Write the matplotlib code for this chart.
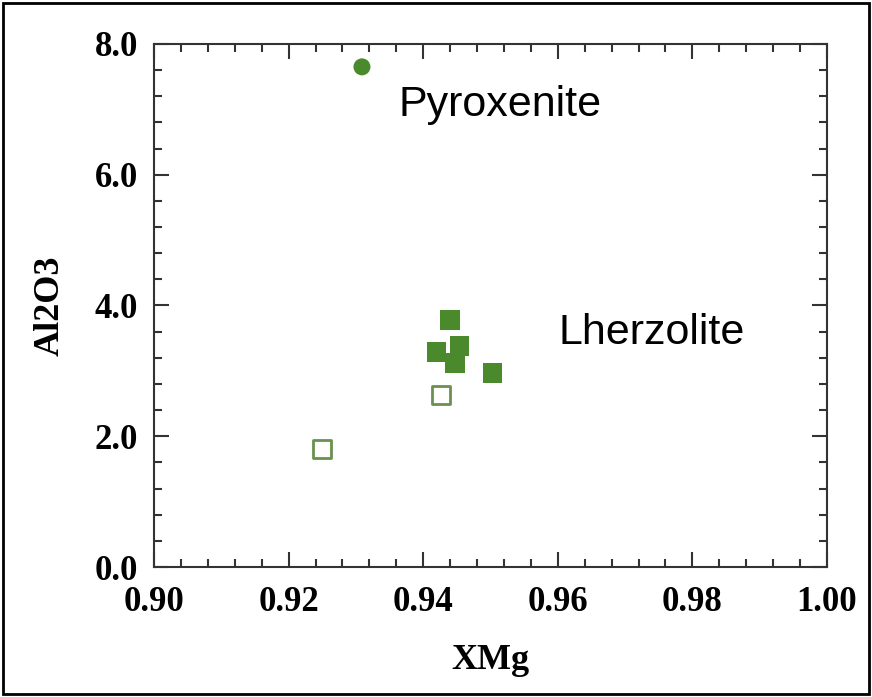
import matplotlib.pyplot as plt
from matplotlib.patches import Rectangle
from matplotlib.ticker import MultipleLocator

# data
pyx_x = [0.9309]
pyx_y = [7.65]
lhz_x = [0.9440, 0.9420, 0.9454, 0.9447, 0.9503]
lhz_y = [3.78, 3.29, 3.38, 3.12, 2.97]
open_x = [0.9426, 0.9250]
open_y = [2.63, 1.80]

green = '#4b8a2c'

fig = plt.figure(figsize=(8.72, 6.97), dpi=100)
ax = fig.add_axes([0.1766, 0.1865, 0.7718, 0.7504])

ax.scatter(pyx_x, pyx_y, marker='o', s=150, color=green, edgecolors='none', zorder=3)
ax.scatter(lhz_x, lhz_y, marker='s', s=200, color=green, edgecolors='none', zorder=3)
ax.scatter(open_x, open_y, marker='s', s=150, facecolors='white',
           edgecolors='#6a9150', linewidths=2, zorder=3)

ax.text(0.9514, 7.06, 'Pyroxenite', fontsize=31, family='Liberation Sans',
        ha='center', va='center')
ax.text(0.9740, 3.58, 'Lherzolite', fontsize=31, family='Liberation Sans',
        ha='center', va='center')

ax.set_xlim(0.90, 1.00)
ax.set_ylim(0.0, 8.0)
ax.xaxis.set_major_locator(MultipleLocator(0.02))
ax.xaxis.set_minor_locator(MultipleLocator(0.004))
ax.yaxis.set_major_locator(MultipleLocator(2.0))
ax.yaxis.set_minor_locator(MultipleLocator(0.4))
ax.set_xticklabels([f'{v:.2f}' for v in ax.get_xticks()])
ax.set_yticklabels([f'{v:.1f}' for v in ax.get_yticks()])

ax.tick_params(which='both', direction='in', top=True, right=True, color='#333333')
ax.tick_params(which='major', length=11, width=1.5)
ax.tick_params(axis='x', which='major', pad=14)
ax.tick_params(axis='y', which='major', pad=11.5)
ax.tick_params(which='minor', length=6, width=1.5)
for lab in ax.get_xticklabels() + ax.get_yticklabels():
    lab.set_family('Liberation Serif')
    lab.set_fontweight('bold')
    lab.set_fontsize(25)
for sp in ax.spines.values():
    sp.set_linewidth(1.5)
    sp.set_color('#333333')

ax.set_xlabel('XMg', family='Liberation Serif', fontweight='bold', fontsize=26, labelpad=18)
ax.set_ylabel('Al2O3', family='Liberation Serif', fontweight='bold', fontsize=26, labelpad=20)

# outer frame around the whole picture
fig.patches.append(Rectangle((0.004, 0.004), 0.992, 0.992, transform=fig.transFigure,
                             fill=False, edgecolor='black', linewidth=2))

fig.savefig('out.png', dpi=100)
